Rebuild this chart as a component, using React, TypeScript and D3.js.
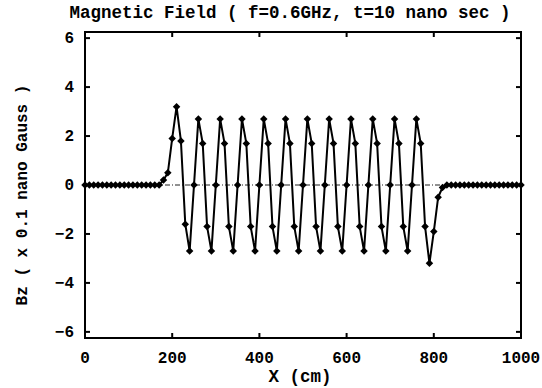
import React, { useRef, useEffect } from 'react';
import * as d3 from 'd3';

// sample spacing along X (cm)
const stepCm = 10;

// Bz values (x 0.1 nano Gauss) at X = 0, 10, 20 ... 1000 cm
const bzValues = [
  0, 0, 0, 0, 0, 0, 0, 0, 0, 0, 0, 0, 0, 0, 0, 0, 0, 0,
  0.2, 0.5, 1.9, 3.2, 1.8, -1.6, -2.7,
  0, 2.7, 1.7, -1.7, -2.7,
  0, 2.7, 1.7, -1.7, -2.7,
  0, 2.7, 1.7, -1.7, -2.7,
  0, 2.7, 1.7, -1.7, -2.7,
  0, 2.7, 1.7, -1.7, -2.7,
  0, 2.7, 1.7, -1.7, -2.7,
  0, 2.7, 1.7, -1.7, -2.7,
  0, 2.7, 1.7, -1.7, -2.7,
  0, 2.7, 1.7, -1.7, -2.7,
  0, 2.7, 1.7, -1.7, -2.7,
  0, 2.7, 1.7, -1.7, -3.2, -1.9, -0.5, -0.1,
  0, 0, 0, 0, 0, 0, 0, 0, 0, 0, 0, 0, 0, 0, 0, 0, 0, 0,
];

const xTicks = [0, 200, 400, 600, 800, 1000];
const yTicks = [-6, -4, -2, 0, 2, 4, 6];

const titleText = 'Magnetic Field ( f=0.6GHz, t=10 nano sec )';
const xLabel = 'X (cm)';
const yLabel = 'Bz ( x 0.1 nano Gauss )';

const App = () => {
  const svgRef = useRef(null);

  useEffect(() => {
    const svg = d3.select(svgRef.current);
    svg.selectAll('*').remove();

    const W = 542, H = 388;
    const left = 85, right = 521, top = 32, bottom = 338;
    const font = '"Liberation Mono", "Courier New", monospace';

    const data = bzValues.map((v, i) => ({ x: i * stepCm, y: v }));

    const x = d3.scaleLinear().domain([0, 1000]).range([left, right]);
    const y = d3.scaleLinear().domain([-6.25, 6.25]).range([bottom, top]);

    svg.attr('width', W).attr('height', H);

    // zero reference line (dash-dot)
    svg.append('line')
      .attr('x1', x(0)).attr('x2', x(1000))
      .attr('y1', y(0)).attr('y2', y(0))
      .attr('stroke', '#222')
      .attr('stroke-width', 1)
      .attr('stroke-dasharray', '5,2,1,2');

    // frame
    svg.append('rect')
      .attr('x', left).attr('y', top)
      .attr('width', right - left).attr('height', bottom - top)
      .attr('fill', 'none')
      .attr('stroke', '#000')
      .attr('stroke-width', 2);

    // inward ticks on all sides
    const tk = 5;
    xTicks.forEach(t => {
      svg.append('line').attr('x1', x(t)).attr('x2', x(t)).attr('y1', bottom).attr('y2', bottom - tk)
        .attr('stroke', '#000').attr('stroke-width', 2);
      svg.append('line').attr('x1', x(t)).attr('x2', x(t)).attr('y1', top).attr('y2', top + tk)
        .attr('stroke', '#000').attr('stroke-width', 2);
    });
    yTicks.forEach(t => {
      svg.append('line').attr('x1', left).attr('x2', left + tk).attr('y1', y(t)).attr('y2', y(t))
        .attr('stroke', '#000').attr('stroke-width', 2);
      svg.append('line').attr('x1', right).attr('x2', right - tk).attr('y1', y(t)).attr('y2', y(t))
        .attr('stroke', '#000').attr('stroke-width', 2);
    });

    // tick labels
    svg.append('g').selectAll('text')
      .data(xTicks).enter().append('text')
      .attr('x', d => x(d)).attr('y', 363)
      .attr('text-anchor', 'middle')
      .attr('font-family', font).attr('font-weight', 'bold').attr('font-size', 16)
      .text(d => d);

    svg.append('g').selectAll('text')
      .data(yTicks).enter().append('text')
      .attr('x', 74).attr('y', d => y(d) + 5)
      .attr('text-anchor', 'end')
      .attr('font-family', font).attr('font-weight', 'bold').attr('font-size', 16)
      .text(d => (d < 0 ? '\u2212' + Math.abs(d) : d));

    // data line
    svg.append('path')
      .datum(data)
      .attr('fill', 'none')
      .attr('stroke', '#000')
      .attr('stroke-width', 2)
      .attr('stroke-linejoin', 'round')
      .attr('d', d3.line().x(d => x(d.x)).y(d => y(d.y)));

    // diamond markers
    const diamond = d3.symbol().type(d3.symbolSquare).size(28)();
    svg.append('g').selectAll('path')
      .data(data).enter().append('path')
      .attr('d', diamond)
      .attr('fill', '#000')
      .attr('transform', d => `translate(${x(d.x)},${y(d.y)}) rotate(45)`);

    // title and axis labels
    svg.append('text')
      .attr('x', 290).attr('y', 18)
      .attr('text-anchor', 'middle')
      .attr('font-family', font).attr('font-weight', 'bold').attr('font-size', 17.5)
      .text(titleText);

    svg.append('text')
      .attr('x', 300).attr('y', 382)
      .attr('text-anchor', 'middle')
      .attr('font-family', font).attr('font-weight', 'bold').attr('font-size', 17.5)
      .text(xLabel);

    svg.append('text')
      .attr('transform', `translate(27,195) rotate(-90)`)
      .attr('text-anchor', 'middle')
      .attr('font-family', font).attr('font-weight', 'bold').attr('font-size', 16)
      .text(yLabel);
  }, []);

  return (
    <svg ref={svgRef} style={{ position: 'absolute', left: 0, top: 0, background: '#fff' }}></svg>
  );
};

export default App;
